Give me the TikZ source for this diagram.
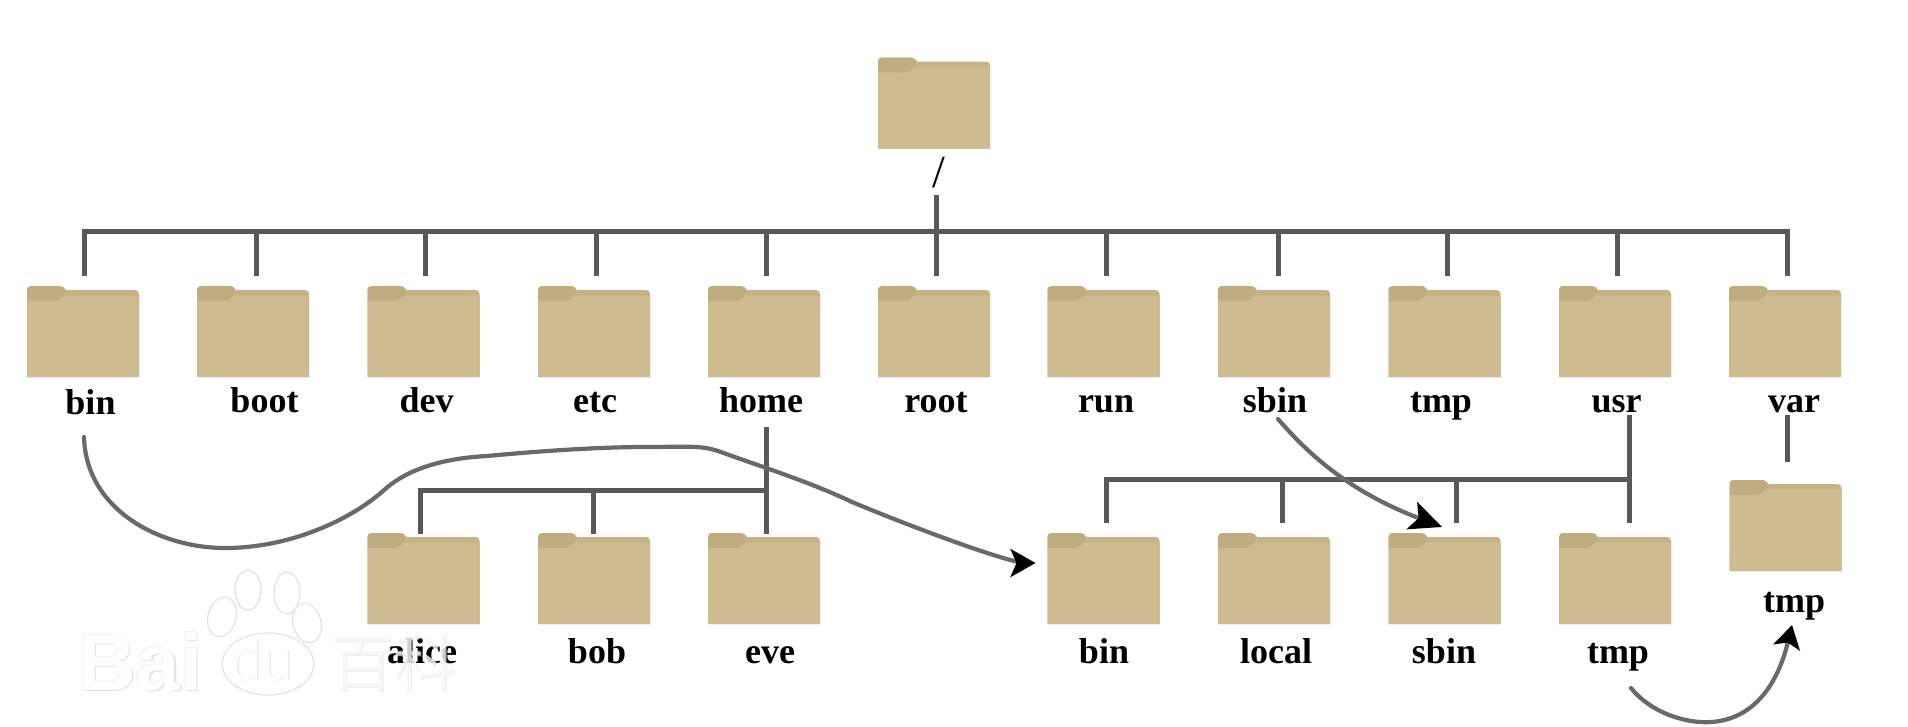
\documentclass[tikz,border=0pt]{standalone}
\usepackage{fontspec}
\setmainfont{Liberation Serif}
\newfontfamily\wmsans{Liberation Sans}
\newfontfamily\wmcjk{Noto Sans CJK SC}
\usetikzlibrary{arrows.meta}
\definecolor{folderback}{HTML}{C5B387}
\definecolor{foldertab}{HTML}{BFAC80}
\definecolor{folderfront}{HTML}{CEBB8F}
\definecolor{linegray}{HTML}{585858}
\definecolor{wmline}{HTML}{E2E2E2}
\definecolor{wmsoft}{HTML}{F1F1F1}
\tikzset{
  tree/.style={draw=linegray,line width=5pt,line cap=butt,line join=miter},
  curve/.style={draw=linegray!90!white,line width=4.2pt,line cap=round},
  foldernode/.style={inner sep=0pt,minimum width=112pt,minimum height=91pt},
  lab/.style={font=\fontsize{36}{40}\bfseries\selectfont,text=black,anchor=base,inner sep=0pt},
  pawpart/.style={fill=white,draw=wmline,line width=1.2pt},
  wmbai/.style={font=\wmsans\bfseries\fontsize{80}{84}\selectfont,anchor=base west,inner sep=0pt},
  wmdu/.style={font=\wmsans\fontsize{56}{60}\selectfont,anchor=base west,inner sep=0pt},
  wmzh/.style={font=\wmcjk\fontsize{63}{66}\selectfont,anchor=base west,inner sep=0pt},
}
% name, left, top, connector x, connector y, label, label x, label baseline
\newcommand{\folderitem}[8]{%
  \begin{scope}[shift={(#2,#3)}]
    \fill[folderback] (0,91) -- (0,4) .. controls (0,1.8) and (1.8,0) .. (4,0) -- (33,0)
      .. controls (36,0) and (37,2) .. (39,4) -- (108,4)
      .. controls (110.5,4) and (112,5.5) .. (112,8) -- (112,91) -- cycle;
    \fill[foldertab] (0,16) -- (0,4) .. controls (0,1.8) and (1.8,0) .. (4,0) -- (33,0)
      .. controls (36,0) and (38,2) .. (38,5) .. controls (38,8) and (36,9) .. (35,10)
      .. controls (33,13) and (31,15) .. (28,15) -- cycle;
    \fill[folderfront] (0,15) -- (28,15) .. controls (31,15) and (33,13) .. (35,11)
      .. controls (36,10) and (37,9.5) .. (39,9.5) -- (112,9.5) -- (112,91) -- (0,91) -- cycle;
  \end{scope}
  \node[foldernode] (#1) at (#2+56,#3+45.5) {};
  \coordinate (#1-in) at (#4,#5);
  \node[lab] (#1-label) at (#7,#8) {#6};
}
\begin{document}
\begin{tikzpicture}[x=1pt,y=-1pt]
\useasboundingbox (0,0) rectangle (1908,726);
\fill[white] (0,0) rectangle (1908,726);

% root
\folderitem{root}{878}{57.5}{936}{195}{}{936}{190}
\node[font=\fontsize{46}{50}\selectfont,anchor=base,inner sep=0pt] (slash) at (938.5,187) {/};

% first row
\folderitem{bin}{27}{286}{84}{276}{bin}{90.5}{414.5}
\folderitem{boot}{197}{286}{256}{276}{boot}{264.5}{412.5}
\folderitem{dev}{367.5}{286}{425.5}{276}{dev}{426.5}{412.5}
\folderitem{etc}{538}{286}{596}{276}{etc}{595}{412.5}
\folderitem{home}{708}{286}{766}{276}{home}{761}{412.5}
\folderitem{rootdir}{878}{286}{936}{276}{root}{936}{412.5}
\folderitem{run}{1047.5}{286}{1106}{276}{run}{1106}{412.5}
\folderitem{sbin}{1218}{286}{1278}{276}{sbin}{1275}{412.5}
\folderitem{tmp}{1388.5}{286}{1447}{276}{tmp}{1441}{412.5}
\folderitem{usr}{1559}{286}{1617}{276}{usr}{1616.5}{412.5}
\folderitem{var}{1729}{286}{1787.5}{276}{var}{1794}{412.5}

% home children
\folderitem{alice}{367.5}{533}{420}{534}{alice}{422}{663}
\folderitem{bob}{538}{533}{593}{534}{bob}{597}{663}
\folderitem{eve}{708}{533}{766}{534}{eve}{770}{663}

% usr children
\folderitem{ubin}{1047.5}{533}{1106}{523}{bin}{1104}{663}
\folderitem{local}{1218}{533}{1282.5}{523}{local}{1276}{663}
\folderitem{usbin}{1388.5}{533}{1456}{523}{sbin}{1444}{663}
\folderitem{utmp}{1559}{533}{1629}{523}{tmp}{1618}{663}

% var child
\folderitem{vtmp}{1729.5}{480}{1787.5}{461.5}{tmp}{1794}{612}

% main tree
\coordinate (bus) at (0,231);
\draw[tree] (root-in) -- (rootdir-in);
\draw[tree] (bin-in) -- (bin-in |- bus) -- (var-in |- bus) -- (var-in);
\foreach \n in {boot,dev,etc,home,run,sbin,tmp,usr}
  \draw[tree] (\n-in |- bus) -- (\n-in);

% home subtree
\coordinate (homeTop) at (766,427);
\coordinate (homeBus) at (0,490);
\draw[tree] (homeTop) -- (eve-in);
\draw[tree] (alice-in) -- (alice-in |- homeBus) -- (eve-in |- homeBus);
\draw[tree] (bob-in |- homeBus) -- (bob-in);

% usr subtree
\coordinate (usrTop) at (1629,415);
\coordinate (usrBus) at (0,479);
\draw[tree] (usrTop) -- (utmp-in);
\draw[tree] (ubin-in) -- (ubin-in |- usrBus) -- (utmp-in |- usrBus);
\draw[tree] (local-in |- usrBus) -- (local-in);
\draw[tree] (usbin-in |- usrBus) -- (usbin-in);

% var subtree
\coordinate (varTop) at (1787.5,415);
\draw[tree] (varTop) -- (vtmp-in);

% curved links
\coordinate (c1s) at (84,437);
\coordinate (c1e) at (1035.5,563);
\draw[curve,-{Stealth[length=25pt,width=28pt,inset=6pt,black]}] (c1s)
  .. controls (86,510) and (160,548) .. (225,548)
  .. controls (290,548) and (350,520) .. (383,491)
  .. controls (410,466) and (450,458) .. (487,456)
  .. controls (540,451) and (600,447) .. (645,447)
  .. controls (685,447) and (700,445) .. (718,451)
  .. controls (765,468) and (810,482) .. (852,502)
  .. controls (890,518) and (960,545) .. (1000,557)
  .. controls (1012,561) and (1025,563) .. (c1e);
\coordinate (c2s) at (1278,419);
\coordinate (c2e) at (1442,527);
\draw[curve,-{Stealth[length=32pt,width=29pt,inset=7pt,black]}] (c2s)
  .. controls (1305,450) and (1345,490) .. (c2e);
\coordinate (c3s) at (1631,688);
\coordinate (c3e) at (1792,625);
\draw[curve,-{Stealth[length=23pt,width=27pt,inset=5pt,black]}] (c3s)
  .. controls (1650,712) and (1685,724) .. (1712,722)
  .. controls (1760,718) and (1780,675) .. (c3e);

% watermark
\begin{scope}
  \fill[pawpart] (248,590) ellipse[x radius=13,y radius=20];
  \fill[pawpart] (287,593) ellipse[x radius=13,y radius=21];
  \fill[pawpart,rotate around={-15:(222,617)}] (222,617) ellipse[x radius=14,y radius=20];
  \fill[pawpart,rotate around={15:(307,623)}] (307,623) ellipse[x radius=14,y radius=20];
  \fill[pawpart] (268,664) ellipse[x radius=46,y radius=31];
  \node[wmbai,text=wmline] (wmC) at (79.2,691.2) {Bai};
  \node[wmbai,text=wmsoft] (wmB) at (77,689) {Bai};
  \node[wmbai,text=white] (wmA) at (78,690) {Bai};
  \node[wmdu,text=wmline] (wmF) at (231,680.8) {du};
  \node[wmdu,text=white] (wmD) at (230.2,680) {du};
  \node[wmzh,text=wmline,opacity=.6] (wmH) at (331,687) {百科};
  \node[wmzh,text=white,opacity=.6] (wmG) at (330,686) {百科};
\end{scope}
\end{tikzpicture}
\end{document}
